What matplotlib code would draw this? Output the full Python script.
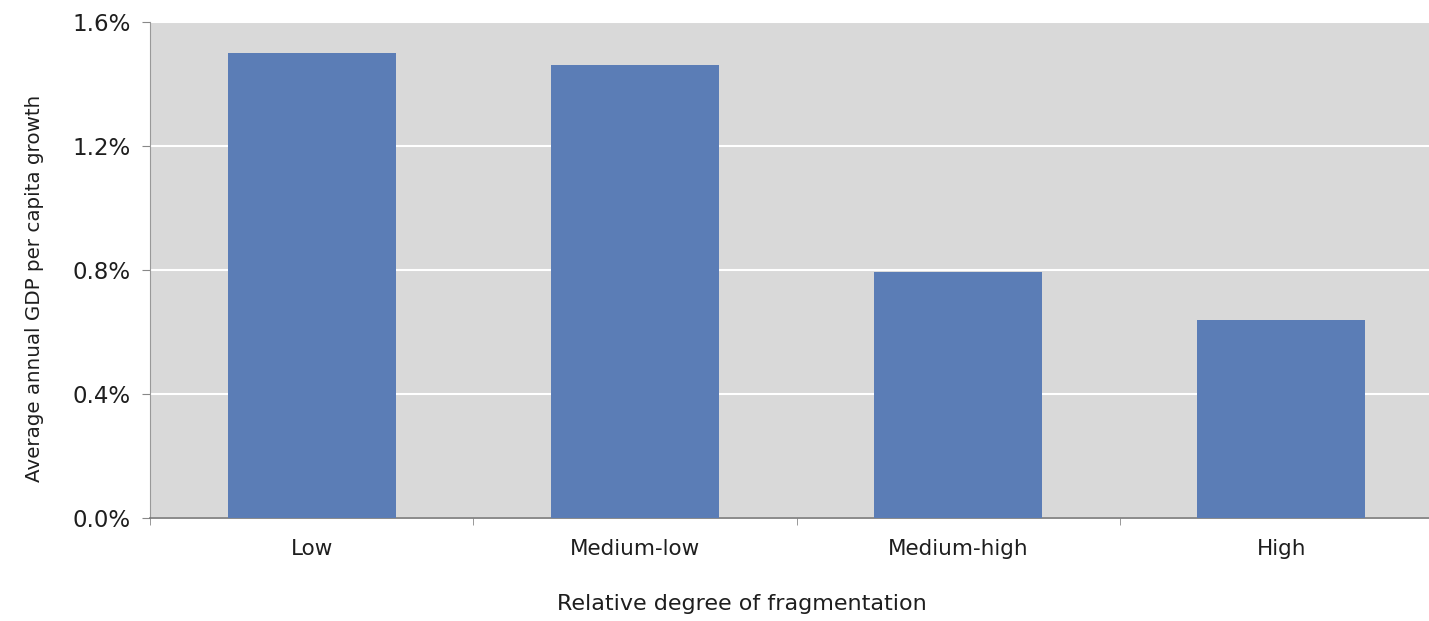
import matplotlib
matplotlib.use("Agg")
import matplotlib.pyplot as plt
from matplotlib.ticker import FuncFormatter, FixedLocator

categories = ["Low", "Medium-low", "Medium-high", "High"]
growth = [1.50, 1.46, 0.795, 0.64]
yticks = [0.0, 0.4, 0.8, 1.2, 1.6]

plt.rcParams['font.family'] = ['DejaVu Sans']

fig = plt.figure(figsize=(14.29, 6.21), dpi=100)
ax = fig.add_axes([150/1429, 103/621, 1293/1429, 496/621])
ax.set_facecolor('#d9d9d9')

x = list(range(len(categories)))
ax.bar(x, growth, width=0.52, color='#5b7db6', zorder=3)

ax.set_xlim(-0.5, 3.5)
ax.set_ylim(0, 1.6)
ax.set_yticks(yticks)
ax.yaxis.set_major_formatter(FuncFormatter(lambda v, p: f"{v:.1f}%"))
ax.yaxis.grid(True, color='white', linewidth=1.5, zorder=1)
ax.set_axisbelow(True)

ax.set_xticks(x)
ax.set_xticklabels(categories)
ax.xaxis.set_minor_locator(FixedLocator([-0.5, 0.5, 1.5, 2.5]))
ax.tick_params(axis='x', which='major', length=0, labelsize=15.5, pad=15, colors='#1e1e1e')
ax.tick_params(axis='x', which='minor', length=5, color='#888888')
ax.tick_params(axis='y', length=6, color='#888888', labelsize=16.5, pad=8, labelcolor='#1e1e1e')

for s in ['top', 'right']:
    ax.spines[s].set_visible(False)
ax.spines['left'].set_color('#999999')
ax.spines['bottom'].set_color('#777777')
ax.spines['bottom'].set_linewidth(1.2)

ax.set_ylabel("Average annual GDP per capita growth", fontsize=14.3, color='#1e1e1e')
ax.yaxis.set_label_coords((44-150)/1293, (518-288)/496)
ax.set_xlabel("Relative degree of fragmentation", fontsize=16, color='#1e1e1e')
ax.xaxis.set_label_coords((742-150)/1293, (518-594)/496)

fig.savefig("out.png", dpi=100)
